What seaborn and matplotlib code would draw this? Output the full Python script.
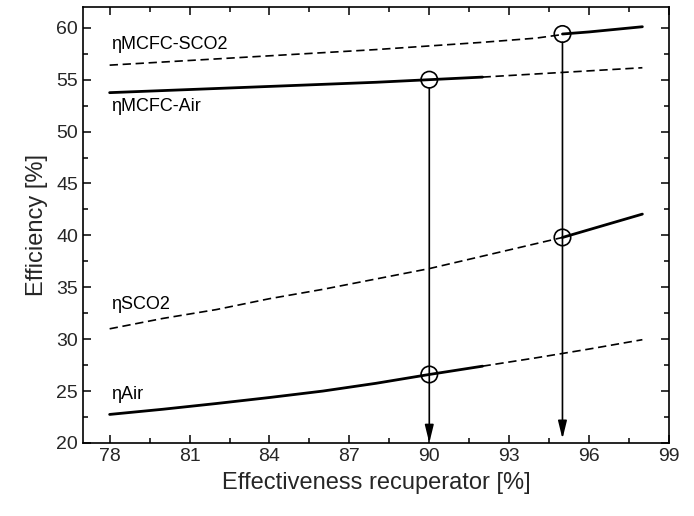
import matplotlib
matplotlib.use("Agg")
import matplotlib.pyplot as plt
from matplotlib.ticker import MultipleLocator
import seaborn as sns

# ---- data ----
x_lo = [78, 80, 82, 84, 86, 88, 90, 92]                 # solid part of air curves
x_lo_dash = [78, 80, 82, 84, 86, 88, 90, 92, 94, 95]    # dashed part of sCO2 curves
x_hi = [95, 96, 97, 98]                                 # solid part of sCO2 curves
x_hi_dash = [92, 94, 96, 98]                            # dashed part of air curves

mcfc_sco2_dash = [56.4, 56.7, 57.0, 57.3, 57.6, 57.9, 58.25, 58.6, 59.0, 59.35]
mcfc_sco2_solid = [59.4, 59.6, 59.85, 60.1]
mcfc_air_solid = [53.75, 53.95, 54.15, 54.35, 54.55, 54.75, 55.0, 55.25]
mcfc_air_dash = [55.25, 55.55, 55.85, 56.15]
sco2_dash = [31.0, 32.0, 32.85, 33.9, 34.8, 35.8, 36.8, 38.0, 39.2, 39.8]
sco2_solid = [39.8, 40.55, 41.3, 42.05]
air_solid = [22.75, 23.25, 23.8, 24.38, 25.0, 25.75, 26.6, 27.4]
air_dash = [27.4, 28.2, 29.05, 29.95]

circle_x = [90, 95, 95, 90]
circle_y = [55.0, 59.4, 39.8, 26.6]

arrow_x = [90, 95]
arrow_top = [55.0, 59.4]
arrow_bottom = [20.0, 20.4]

labels = ["ηMCFC-SCO2", "ηMCFC-Air", "ηSCO2", "ηAir"]
label_y = [58.35, 52.45, 33.3, 24.7]

xticks = [78, 81, 84, 87, 90, 93, 96, 99]
yticks = [20, 25, 30, 35, 40, 45, 50, 55, 60]

# ---- style ----
sns.set_theme(style="ticks")
plt.rcParams["font.family"] = ["Liberation Sans", "DejaVu Sans"]

fig = plt.figure(figsize=(6.94, 5.16), dpi=100)
ax = fig.add_axes([0.1196, 0.1415, 0.8444, 0.8449])

solid_kw = dict(color="black", lw=2.0, linestyle="-")
dash_kw = dict(color="black", lw=1.2, linestyle=(0, (5, 2.8)))

sns.lineplot(x=x_lo_dash, y=mcfc_sco2_dash, ax=ax, **dash_kw)
sns.lineplot(x=x_hi, y=mcfc_sco2_solid, ax=ax, **solid_kw)
sns.lineplot(x=x_lo, y=mcfc_air_solid, ax=ax, **solid_kw)
sns.lineplot(x=x_hi_dash, y=mcfc_air_dash, ax=ax, **dash_kw)
sns.lineplot(x=x_lo_dash, y=sco2_dash, ax=ax, **dash_kw)
sns.lineplot(x=x_hi, y=sco2_solid, ax=ax, **solid_kw)
sns.lineplot(x=x_lo, y=air_solid, ax=ax, **solid_kw)
sns.lineplot(x=x_hi_dash, y=air_dash, ax=ax, **dash_kw)

sns.scatterplot(x=circle_x, y=circle_y, ax=ax, s=140, facecolor="none",
                edgecolor="black", linewidth=1.2, zorder=5)

for xa, yt, yb in zip(arrow_x, arrow_top, arrow_bottom):
    ax.annotate("", xy=(xa, yb), xytext=(xa, yt),
                arrowprops=dict(arrowstyle="-|>,head_length=0.9,head_width=0.22",
                                color="black", lw=1.2, shrinkA=6, shrinkB=0))

for lab, ly in zip(labels, label_y):
    ax.text(78.05, ly, lab, fontsize=13, va="center", ha="left", color="black")

ax.set_xlim(77, 99)
ax.set_ylim(20, 62)
ax.set_xticks(xticks)
ax.set_yticks(yticks)
ax.xaxis.set_minor_locator(MultipleLocator(1.5))
ax.yaxis.set_minor_locator(MultipleLocator(2.5))
ax.tick_params(which="both", direction="in", top=True, right=True,
               labelsize=14, color="black", width=1.1)
ax.tick_params(which="major", length=6)
ax.tick_params(which="minor", length=3.5)
for sp in ax.spines.values():
    sp.set_visible(True)
    sp.set_linewidth(1.2)
    sp.set_color("black")

ax.set_xlabel("Effectiveness recuperator [%]", fontsize=17, labelpad=5)
ax.set_ylabel("Efficiency [%]", fontsize=17, labelpad=6)

fig.savefig("out.png", dpi=100)
